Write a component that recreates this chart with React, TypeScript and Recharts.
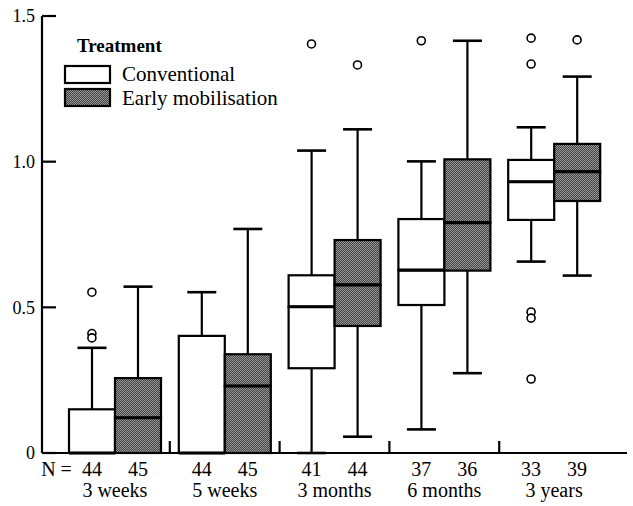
import React from 'react';
import { ComposedChart, Bar, Scatter, XAxis, YAxis, Legend } from 'recharts';

const GROUPS = ['3 weeks', '5 weeks', '3 months', '6 months', '3 years'];
const SERIES = ['Conventional', 'Early mobilisation'];
const LEGEND_TITLE = 'Treatment';
const N_LABEL = 'N =';
const N_CONV = [44, 44, 41, 37, 33];
const N_EARLY = [45, 45, 44, 36, 39];
// [min, q1, median, q3, max]
const CONV_STATS = [
  [0, 0, 0, 0.15, 0.361],
  [0, 0, 0, 0.402, 0.552],
  [0, 0.291, 0.502, 0.61, 1.038],
  [0.081, 0.508, 0.628, 0.803, 1.001],
  [0.657, 0.8, 0.931, 1.006, 1.118],
];
const EARLY_STATS = [
  [0, 0, 0.121, 0.257, 0.571],
  [0, 0, 0.23, 0.339, 0.769],
  [0.056, 0.436, 0.577, 0.731, 1.111],
  [0.274, 0.626, 0.791, 1.008, 1.415],
  [0.609, 0.865, 0.966, 1.061, 1.292],
];
const CONV_OUTLIERS = [[0.552, 0.41, 0.395], [], [1.404], [1.415], [1.424, 1.335, 0.484, 0.463, 0.254]];
const EARLY_OUTLIERS = [[], [], [1.332], [], [1.418]];
const Y_TICKS = [0, 0.5, 1.0, 1.5];

const FONT = "'Liberation Serif', 'DejaVu Serif', serif";
const BOX_W = 46;
const CAP_W = 29;
const STROKE = 2.2;
const STIPPLE = 'url(#stipple)';

const MAX_CO = Math.max(...CONV_OUTLIERS.map((a) => a.length));
const MAX_EO = Math.max(...EARLY_OUTLIERS.map((a) => a.length));

const data = GROUPS.map((g, i) => {
  const c = CONV_STATS[i];
  const e = EARLY_STATS[i];
  const row: any = {
    group: g,
    cBase: c[0], cLoW: c[1] - c[0], cLoB: c[2] - c[1], cHiB: c[3] - c[2], cHiW: c[4] - c[3],
    eBase: e[0], eLoW: e[1] - e[0], eLoB: e[2] - e[1], eHiB: e[3] - e[2], eHiW: e[4] - e[3],
  };
  for (let k = 0; k < MAX_CO; k++) row['co' + k] = CONV_OUTLIERS[i][k] ?? null;
  for (let k = 0; k < MAX_EO; k++) row['eo' + k] = EARLY_OUTLIERS[i][k] ?? null;
  return row;
});

const Empty = () => <g />;

const lowWhisker = (p: any) => {
  const { x, y, width, height } = p;
  if (!(height > 0)) return <g />;
  const cx = x + width / 2;
  return (
    <g>
      <line x1={cx} x2={cx} y1={y} y2={y + height} stroke="#000" strokeWidth={STROKE} />
      <line x1={cx - CAP_W / 2} x2={cx + CAP_W / 2} y1={y + height} y2={y + height} stroke="#000" strokeWidth={STROKE + 0.4} />
    </g>
  );
};

const highWhisker = (p: any) => {
  const { x, y, width, height } = p;
  if (!(height > 0)) return <g />;
  const cx = x + width / 2;
  return (
    <g>
      <line x1={cx} x2={cx} y1={y} y2={y + height} stroke="#000" strokeWidth={STROKE} />
      <line x1={cx - CAP_W / 2} x2={cx + CAP_W / 2} y1={y} y2={y} stroke="#000" strokeWidth={STROKE + 0.4} />
    </g>
  );
};

const makeBox = (fill: string, withMedian: boolean) => (p: any) => {
  const { x, y, width } = p;
  const h = Math.max(0, p.height || 0);
  if (x == null || y == null) return <g />;
  return (
    <g>
      <rect x={x} y={y} width={width} height={h} fill={fill} stroke="#000" strokeWidth={STROKE} />
      {withMedian && <line x1={x} x2={x + width} y1={y + h} y2={y + h} stroke="#000" strokeWidth={3.2} />}
    </g>
  );
};

const outlier = (shift: number) => (p: any) => {
  if (p.cx == null || p.cy == null || Number.isNaN(p.cy)) return <g />;
  return <circle cx={p.cx + shift} cy={p.cy} r={4} fill="#fff" stroke="#000" strokeWidth={1.6} />;
};

const XTick = (props: any) => {
  const { x, y, payload } = props;
  const i = GROUPS.indexOf(payload.value);
  const half = payload.offset ?? 55;
  const txt = { fontFamily: FONT, fontSize: 20, fill: '#000' } as any;
  return (
    <g>
      {i < GROUPS.length - 1 && (
        <line x1={x + half} x2={x + half} y1={y} y2={y - 12} stroke="#000" strokeWidth={STROKE} />
      )}
      {i === 0 && (
        <text x={x - BOX_W / 2 - 20} y={y + 23} textAnchor="end" {...txt}>{N_LABEL}</text>
      )}
      <text x={x - BOX_W / 2} y={y + 23} textAnchor="middle" {...txt}>{N_CONV[i]}</text>
      <text x={x + BOX_W / 2} y={y + 23} textAnchor="middle" {...txt}>{N_EARLY[i]}</text>
      <text x={x} y={y + 44} textAnchor="middle" {...txt}>{payload.value}</text>
    </g>
  );
};

const StippleDef = ({ id }: { id: string }) => (
  <pattern id={id} width={2} height={2} patternUnits="userSpaceOnUse">
    <rect x={0} y={0} width={2} height={2} fill="#444" />
    <rect x={0} y={0} width={1} height={1} fill="#969696" />
    <rect x={1} y={1} width={1} height={1} fill="#969696" />
  </pattern>
);

const LegendBox = () => (
  <svg width={240} height={90} style={{ display: 'block' }}>
    <defs>
      <StippleDef id="stipple2" />
    </defs>
    <text x={17} y={22} fontFamily={FONT} fontSize={19} fontWeight="bold" fill="#000">{LEGEND_TITLE}</text>
    <rect x={5} y={36} width={45} height={17} fill="#fff" stroke="#000" strokeWidth={STROKE} />
    <text x={62} y={51} fontFamily={FONT} fontSize={21} fill="#000">{SERIES[0]}</text>
    <rect x={5} y={59} width={45} height={17} fill="url(#stipple2)" stroke="#000" strokeWidth={STROKE} />
    <text x={62} y={75} fontFamily={FONT} fontSize={21} fill="#000">{SERIES[1]}</text>
  </svg>
);

export default function App() {
  const axisLine = { stroke: '#000', strokeWidth: STROKE };
  return (
    <div style={{ position: 'absolute', left: 0, top: 0, width: 633, height: 506, background: '#fff' }}>
      <ComposedChart
        width={633}
        height={506}
        data={data}
        margin={{ top: 16, right: 6, bottom: 0, left: 0 }}
        barGap={0}
        barSize={BOX_W}
      >
        <defs>
          <StippleDef id="stipple" />
        </defs>
        <XAxis
          dataKey="group"
          type="category"
          height={53}
          padding={{ left: 18, right: 18 }}
          axisLine={axisLine}
          tickLine={false}
          tickSize={0}
          tickMargin={0}
          interval={0}
          tick={<XTick />}
        />
        <XAxis
          xAxisId="top"
          dataKey="group"
          orientation="top"
          height={0}
          axisLine={axisLine}
          tick={false}
          tickLine={false}
        />
        <YAxis
          type="number"
          domain={[0, 1.5]}
          ticks={Y_TICKS}
          interval={0}
          width={42}
          tickSize={-14}
          tickMargin={21}
          axisLine={axisLine}
          tickLine={{ stroke: '#000', strokeWidth: STROKE }}
          tick={{ fill: '#000', fontSize: 18, fontFamily: FONT }}
          tickFormatter={(v: number) => (v === 0 ? '0' : v.toFixed(1))}
        />
        <YAxis
          yAxisId="right"
          orientation="right"
          type="number"
          domain={[0, 1.5]}
          width={0}
          axisLine={axisLine}
          tick={false}
          tickLine={false}
        />
        <Bar dataKey="cBase" stackId="c" shape={Empty} isAnimationActive={false} legendType="none" />
        <Bar dataKey="cLoW" stackId="c" shape={lowWhisker} isAnimationActive={false} legendType="none" />
        <Bar dataKey="cLoB" stackId="c" shape={makeBox('#fff', false)} isAnimationActive={false} legendType="none" />
        <Bar dataKey="cHiB" stackId="c" shape={makeBox('#fff', true)} isAnimationActive={false} legendType="none" />
        <Bar dataKey="cHiW" stackId="c" shape={highWhisker} isAnimationActive={false} legendType="none" />
        <Bar dataKey="eBase" stackId="e" shape={Empty} isAnimationActive={false} legendType="none" />
        <Bar dataKey="eLoW" stackId="e" shape={lowWhisker} isAnimationActive={false} legendType="none" />
        <Bar dataKey="eLoB" stackId="e" shape={makeBox(STIPPLE, false)} isAnimationActive={false} legendType="none" />
        <Bar dataKey="eHiB" stackId="e" shape={makeBox(STIPPLE, true)} isAnimationActive={false} legendType="none" />
        <Bar dataKey="eHiW" stackId="e" shape={highWhisker} isAnimationActive={false} legendType="none" />
        {Array.from({ length: MAX_CO }, (_, k) => (
          <Scatter key={'co' + k} dataKey={'co' + k} shape={outlier(-BOX_W / 2)} isAnimationActive={false} legendType="none" />
        ))}
        {Array.from({ length: MAX_EO }, (_, k) => (
          <Scatter key={'eo' + k} dataKey={'eo' + k} shape={outlier(BOX_W / 2)} isAnimationActive={false} legendType="none" />
        ))}
        <Legend
          verticalAlign="middle"
          align="center"
          layout="horizontal"
          wrapperStyle={{ position: 'absolute', left: 60, top: 30, width: 240, height: 90 }}
          content={() => <LegendBox />}
        />
      </ComposedChart>
    </div>
  );
}
